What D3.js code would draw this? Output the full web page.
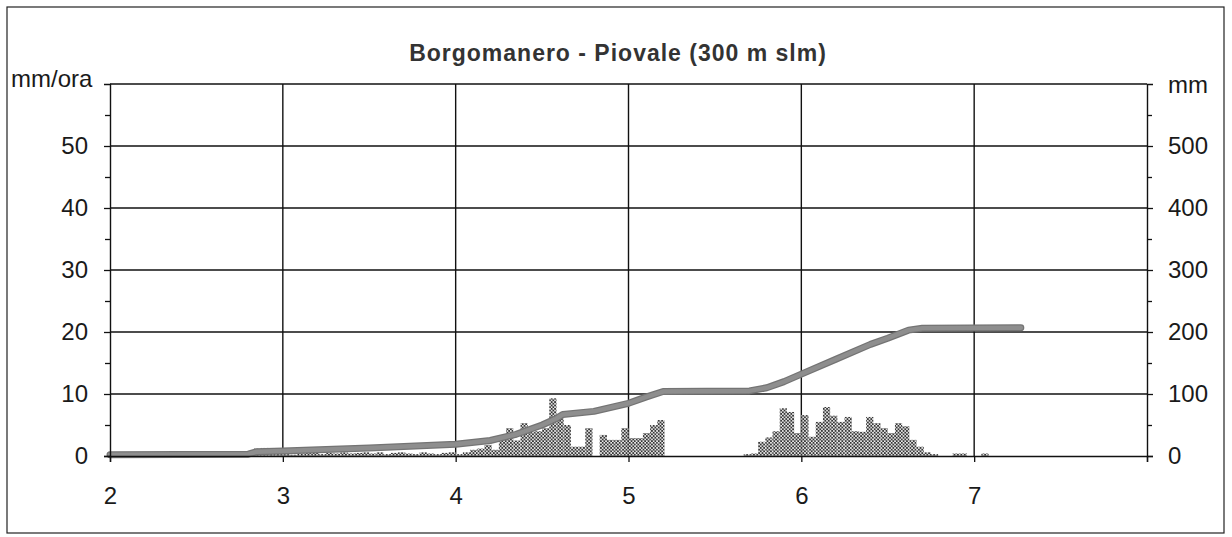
<!DOCTYPE html>
<html>
<head>
<meta charset="utf-8">
<script src="https://cdn.jsdelivr.net/npm/d3@7"></script>
<style>
  body { margin: 0; background: #fff; }
  svg { display: block; font-family: "Liberation Sans", Arial, sans-serif; }
</style>
</head>
<body>
<svg id="chart" width="1232" height="537"></svg>
<script>
// hourly rain (mm/ora), hour index counted from day 2 at 00:00
const rainHours = [
  20, 21, 22, 23, 24, 25, 26, 27, 28, 29, 30, 31, 32, 33, 34, 35, 36, 37, 38, 39,
  40, 41, 42, 43, 44, 45, 46, 47, 48, 49, 50, 51, 52, 53, 54, 55, 56, 57, 58, 59,
  60, 61, 62, 63, 64, 65, 66, 67, 68, 69, 70, 71, 72, 73, 74, 75, 76,
  88, 89, 90, 91, 92, 93, 94, 95, 96, 97, 98, 99, 100, 101, 102, 103, 104, 105,
  106, 107, 108, 109, 110, 111, 112, 113, 114, 117, 118, 121
];
const rainValues = [
  1.2, 1.3, 0.8, 0.5, 0.3, 0.2, 0.4, 0.6, 0.5, 0.3, 0.5, 0.4, 0.6, 0.4, 0.5, 0.6, 0.4, 0.6, 0.3, 0.5,
  0.6, 0.4, 0.3, 0.6, 0.4, 0.3, 0.5, 0.6, 0.3, 0.6, 1.0, 1.2, 1.8, 1.0, 2.6, 4.5, 2.5, 5.3, 3.9, 4.0,
  4.5, 9.3, 6.1, 5.0, 1.5, 1.5, 4.5, 0, 3.4, 2.6, 2.6, 4.5, 2.9, 2.9, 3.7, 5.0, 5.8,
  0.3, 0.4, 2.3, 3.0, 4.0, 7.7, 7.1, 3.7, 6.6, 3.1, 5.5, 7.9, 6.5, 5.5, 6.3, 4.0, 3.9, 6.3,
  5.3, 4.5, 3.7, 5.3, 4.8, 2.6, 1.5, 0.6, 0.3, 0.4, 0.4, 0.4
];

// cumulative rain (mm)
const cumDays = [2.0, 2.8, 2.85, 3.0, 3.5, 4.0, 4.2, 4.35, 4.5, 4.58, 4.62, 4.8, 5.0, 5.1, 5.2,
  5.7, 5.8, 5.9, 6.0, 6.2, 6.4, 6.5, 6.62, 6.7, 7.27];
const cumValues = [2, 3, 7, 8, 13, 19, 25, 35, 50, 60, 67, 72, 85, 95, 104,
  105, 110, 120, 132, 156, 180, 190, 203, 206, 207];

const dayTicks = [2, 3, 4, 5, 6, 7];
const leftTicks = [0, 10, 20, 30, 40, 50];
const rightTicks = [0, 100, 200, 300, 400, 500];

const svg = d3.select("#chart");
const plotL = 110, plotR = 1147, plotT = 84, plotB = 456;

let x = d3.scaleLinear().domain([2, 8]).range([plotL, plotR]);
let yRain = d3.scaleLinear().domain([0, 60]).range([plotB, plotT]);
let yCum = d3.scaleLinear().domain([0, 600]).range([plotB, plotT]);

// outer frame
svg.append("rect")
  .attr("x", 7).attr("y", 7).attr("width", 1217).attr("height", 526)
  .attr("fill", "none").attr("stroke", "#222").attr("stroke-width", 1.2);

// dotted fill for the bars
const pat = svg.append("defs").append("pattern")
  .attr("id", "dots").attr("patternUnits", "userSpaceOnUse")
  .attr("width", 3.4).attr("height", 3.4);
pat.append("rect").attr("width", 3.4).attr("height", 3.4).attr("fill", "#eeeeee");
pat.append("circle").attr("cx", 0.85).attr("cy", 0.85).attr("r", 1).attr("fill", "#2e2e2e");
pat.append("circle").attr("cx", 2.55).attr("cy", 2.55).attr("r", 1).attr("fill", "#2e2e2e");

// gridlines
svg.append("g")
  .selectAll("line")
  .data([10, 20, 30, 40, 50, 60])
  .join("line")
  .attr("x1", plotL).attr("x2", plotR)
  .attr("y1", (d) => yRain(d)).attr("y2", (d) => yRain(d))
  .attr("stroke", "#111").attr("stroke-width", 1.4);

svg.append("g")
  .selectAll("line")
  .data([3, 4, 5, 6, 7])
  .join("line")
  .attr("x1", (d) => x(d)).attr("x2", (d) => x(d))
  .attr("y1", plotT).attr("y2", plotB)
  .attr("stroke", "#111").attr("stroke-width", 1.4);

// hourly bars
const hourW = x(2 + 1 / 24) - x(2);
svg.append("g")
  .selectAll("rect")
  .data(rainHours.map((h, i) => ({ h: h, v: rainValues[i] })).filter((d) => d.v > 0))
  .join("rect")
  .attr("x", (d) => x(2 + d.h / 24))
  .attr("y", (d) => yRain(d.v))
  .attr("width", hourW)
  .attr("height", (d) => yRain(0) - yRain(d.v))
  .attr("fill", "url(#dots)");

// cumulative line
const cum = cumDays.map((d, i) => [d, cumValues[i]]);
const line = d3.line().x((d) => x(d[0])).y((d) => yCum(d[1]));
svg.append("path").datum(cum).attr("d", line)
  .attr("fill", "none").attr("stroke", "#747474").attr("stroke-width", 7)
  .attr("stroke-linejoin", "round").attr("stroke-linecap", "round");
svg.append("path").datum(cum).attr("d", line)
  .attr("fill", "none").attr("stroke", "#8e8e8e").attr("stroke-width", 4.5)
  .attr("stroke-linejoin", "round").attr("stroke-linecap", "round");

// axes
const tickFont = (g) => g.selectAll("text")
  .attr("font-size", 24).attr("fill", "#1a1a1a")
  .attr("font-family", "'Liberation Sans', Arial, sans-serif");

svg.append("g")
  .attr("transform", `translate(${plotL},0)`)
  .call(d3.axisLeft(yRain).tickValues(leftTicks).tickSize(6).tickPadding(16))
  .call((g) => g.select(".domain").attr("stroke", "#111").attr("stroke-width", 1.4))
  .call(tickFont);
svg.append("g")
  .attr("transform", `translate(${plotL},0)`)
  .call(d3.axisLeft(yRain).tickValues(d3.range(5, 60, 10)).tickSize(5).tickFormat(""))
  .call((g) => g.select(".domain").remove());

svg.append("g")
  .attr("transform", `translate(${plotR},0)`)
  .call(d3.axisRight(yCum).tickValues(rightTicks).tickSize(6).tickPadding(15))
  .call((g) => g.select(".domain").attr("stroke", "#111").attr("stroke-width", 1.4))
  .call(tickFont);
svg.append("g")
  .attr("transform", `translate(${plotR},0)`)
  .call(d3.axisRight(yCum).tickValues(d3.range(50, 600, 100)).tickSize(5).tickFormat(""))
  .call((g) => g.select(".domain").remove());

svg.append("g")
  .attr("transform", `translate(0,${plotB})`)
  .call(d3.axisBottom(x).tickValues(dayTicks.concat([8])).tickSize(6).tickPadding(25)
    .tickFormat((d) => (d === 8 ? "" : d)))
  .call((g) => g.select(".domain").attr("stroke", "#111").attr("stroke-width", 1.4))
  .call(tickFont);

svg.selectAll(".tick line").attr("stroke", "#111").attr("stroke-width", 1.3);

// titles
svg.append("text")
  .attr("x", 618).attr("y", 61)
  .attr("text-anchor", "middle")
  .attr("font-size", 23).attr("font-weight", "bold").attr("fill", "#333")
  .attr("letter-spacing", 1)
  .text("Borgomanero - Piovale (300 m slm)");
svg.append("text")
  .attr("x", 11).attr("y", 87)
  .attr("font-size", 24).attr("fill", "#1a1a1a")
  .text("mm/ora");
svg.append("text")
  .attr("x", 1168).attr("y", 93)
  .attr("font-size", 24).attr("fill", "#1a1a1a")
  .text("mm");
</script>
</body>
</html>
